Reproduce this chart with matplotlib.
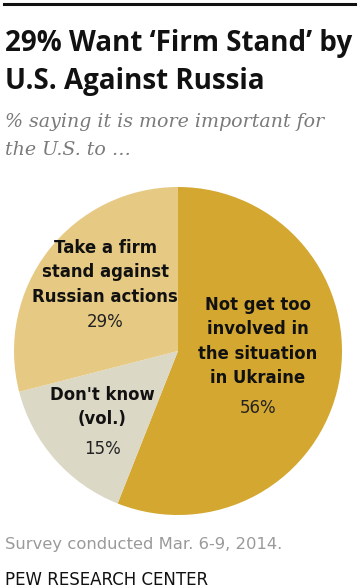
import matplotlib
matplotlib.use("Agg")
import matplotlib.pyplot as plt
from matplotlib.lines import Line2D

W, H = 359, 588
categories = ["Not get too\ninvolved in\nthe situation\nin Ukraine", "Don't know\n(vol.)", "Take a firm\nstand against\nRussian actions"]
values = [56, 15, 29]
colors = ["#D3A730", "#DCD8C6", "#E6CA84"]
title_lines = ["29% Want \u2018Firm Stand\u2019 by", "U.S. Against Russia"]
subtitle_lines = ["% saying it is more important for", "the U.S. to \u2026"]
note = "Survey conducted Mar. 6-9, 2014."
source = "PEW RESEARCH CENTER"

fig = plt.figure(figsize=(W / 100, H / 100), dpi=100)
fig.patch.set_facecolor("white")

def px(x, y):
    return x / W, 1 - y / H

# top rule
fig.add_artist(Line2D([4 / W, 355 / W], [1 - 3.5 / H, 1 - 3.5 / H], color="#111111", lw=2.2))

for i, t in enumerate(title_lines):
    fig.text(*px(5, 51 + i * 38), t, fontsize=20, fontweight="bold",
             family="Open Sans", color="#111111", va="baseline", ha="left")
for i, t in enumerate(subtitle_lines):
    fig.text(*px(5, 127 + i * 28), t, fontsize=13.7, style="italic",
             family="DejaVu Serif", color="#7a7a7a", va="baseline", ha="left")

cx, cy, r = 178, 351, 164
ax = fig.add_axes([(cx - r) / W, (H - cy - r) / H, 2 * r / W, 2 * r / H])
ax.pie(values, colors=colors, startangle=90, counterclock=False, radius=1,
       wedgeprops=dict(linewidth=0))
ax.set_xlim(-1, 1)
ax.set_ylim(-1, 1)
ax.set_aspect("equal")
ax.axis("off")

label_pos = [(258, 305), (102, 395), (105, 248)]
pct_pos = [(258, 408), (102, 449), (105, 322)]
for cat, v, (lx, ly), (qx, qy) in zip(categories, values, label_pos, pct_pos):
    lines = cat.split("\n")
    for i, ln in enumerate(lines):
        fig.text(*px(lx, ly + i * 24.3), ln, fontsize=11.9, fontweight="bold", family="DejaVu Sans",
                 color="#111111", ha="center", va="center")
    fig.text(*px(qx, qy), f"{v}%", fontsize=12, family="DejaVu Sans", color="#222222",
             ha="center", va="center")

fig.text(*px(5, 549), note, fontsize=11.8, family="DejaVu Sans", color="#9a9a9a", va="baseline", ha="left")
fig.text(*px(5, 585), source, fontsize=12, family="DejaVu Sans", color="#111111", va="baseline", ha="left")

fig.savefig("out.png", dpi=100, facecolor="white")
